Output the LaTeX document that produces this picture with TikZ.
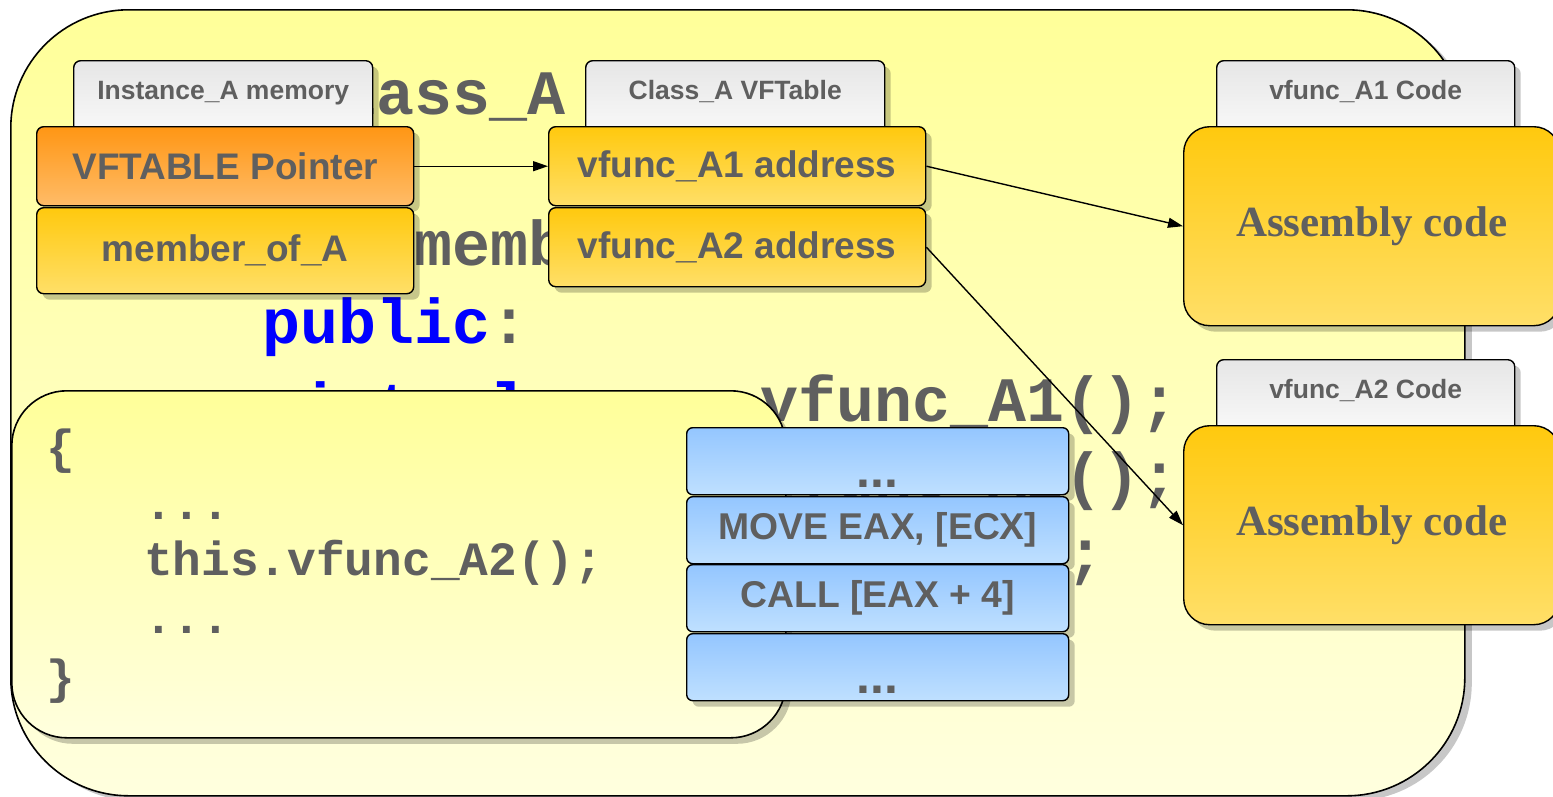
\documentclass[tikz,border=0pt]{standalone}
\usepackage{fontspec}
\setmainfont{Liberation Sans}
\newfontfamily\asmfont{Liberation Serif}
\newfontfamily\codefont{Liberation Mono}
\usetikzlibrary{shadows,arrows.meta}
\definecolor{txt}{HTML}{5F5F5F}
\definecolor{kw}{HTML}{0000FF}
\definecolor{yelT}{HTML}{FFFF99}
\definecolor{yelB}{HTML}{FFFFDE}
\definecolor{orT}{HTML}{FF9614}
\definecolor{orB}{HTML}{FFBC68}
\definecolor{gdT}{HTML}{FFC90E}
\definecolor{gdB}{HTML}{FFDF68}
\definecolor{tbT}{HTML}{E6E6E6}
\definecolor{tbB}{HTML}{FBFBFB}
\definecolor{blT}{HTML}{94C6FF}
\definecolor{blB}{HTML}{BFE0FF}
\tikzset{
  shd/.style={drop shadow={shadow xshift=6pt,shadow yshift=-6pt,fill=black,opacity=0.22}},
  outerbox/.style={draw=black,line width=1.6pt,rounded corners=118pt,top color=yelT,bottom color=yelB,
    drop shadow={shadow xshift=7pt,shadow yshift=-5pt,fill=black,opacity=0.22},inner sep=0pt,anchor=north west},
  bodybox/.style={draw=black,line width=1.6pt,rounded corners=55pt,top color=yelT,bottom color=yelB,shd,inner sep=0pt,anchor=north west},
  tabbox/.style={draw=black,line width=1.4pt,rounded corners=7pt,top color=tbT,bottom color=tbB,shd,inner sep=0pt,
    anchor=north west,minimum height=80pt,text=txt,font=\bfseries\fontsize{26.5}{28}\selectfont,
    text height=20pt,text depth=23pt},
  cellbox/.style={draw=black,line width=1.4pt,rounded corners=7pt,shd,inner sep=0pt,anchor=north west,
    text=txt,font=\bfseries\fontsize{37}{40}\selectfont},
  orange/.style={cellbox,top color=orT,bottom color=orB},
  gold/.style={cellbox,top color=gdT,bottom color=gdB},
  asmbox/.style={draw=black,line width=1.4pt,rounded corners=26pt,top color=gdT,bottom color=gdB,shd,inner sep=0pt,
    anchor=north west,text=txt,font=\asmfont\bfseries\fontsize{43}{48}\selectfont},
  bluebox/.style={draw=black,line width=1.4pt,rounded corners=6pt,top color=blT,bottom color=blB,shd,inner sep=0pt,
    anchor=north west,minimum width=382pt,minimum height=67pt,text=txt,font=\bfseries\fontsize{37.3}{40}\selectfont},
  dotsbox/.style={bluebox,font=\bfseries\fontsize{50}{50}\selectfont,text height=53pt,text depth=0pt},
  bigcode/.style={inner sep=0pt,anchor=base west,text=txt,font=\codefont\bfseries\fontsize{63.3}{70}\selectfont},
  smallcode/.style={inner sep=0pt,anchor=base west,text=txt,font=\codefont\bfseries\fontsize{47.8}{52}\selectfont},
  link/.style={draw=black,line width=1.4pt,-{Triangle[length=15pt,width=10pt]}}
}
\begin{document}
\begin{tikzpicture}[x=1pt,y=-1pt]
\useasboundingbox (0,0) rectangle (1553,796);
\clip (0,0) rectangle (1553,796);

% class background
\node[outerbox,minimum width=1454pt,minimum height=786pt] (cls) at (10,9) {};

% class source text (partly hidden)
\node[bigcode] (l1) at (72,114) {class Class\_A};
\node[bigcode] (l2) at (262,265) {int member\_of\_A;};
\node[bigcode,text=kw] (l3) at (262,343) {public};
\node[bigcode] (l3c) at (490,343) {:};
\node[bigcode,text=kw] (l4) at (262,427) {virtual};
\node[bigcode] (l4b) at (760,421) {vfunc\_A1();};
\node[bigcode] (l5) at (760,497) {vfunc\_A2();};
\node[bigcode] (l6) at (1066,574) {;};

% tabs
\node[tabbox,minimum width=299pt] (tabI) at (73,60) {Instance\_A memory};
\node[tabbox,minimum width=299pt] (tabV) at (585,60) {Class\_A VFTable};
\node[tabbox,minimum width=298pt] (tabC1) at (1216,60) {vfunc\_A1 Code};
\node[tabbox,minimum width=298pt] (tabC2) at (1216,359) {vfunc\_A2 Code};

% memory cells
\node[orange,minimum width=377pt,minimum height=79pt] (vptr) at (36,126) {VFTABLE Pointer};
\node[gold,minimum width=377pt,minimum height=86pt] (mem) at (36,207) {member\_of\_A};
\node[gold,minimum width=377pt,minimum height=79pt] (a1) at (548,126) {vfunc\_A1 address};
\node[gold,minimum width=377pt,minimum height=79pt] (a2) at (548,207) {vfunc\_A2 address};

% assembly code blocks
\node[asmbox,minimum width=376pt,minimum height=199pt] (code1) at (1183,126) {Assembly code};
\node[asmbox,minimum width=376pt,minimum height=199pt] (code2) at (1183,425) {Assembly code};

% method body
\node[bodybox,minimum width=774pt,minimum height=347pt] (body) at (11,390) {};
\node[smallcode] (b1) at (46,463) {\{};
\node[smallcode] (b2) at (144,519) {...};
\node[smallcode] (b3) at (144,575) {this.vfunc\_A2();};
\node[smallcode] (b4) at (144,633) {...};
\node[smallcode] (b5) at (46,693) {\}};

% instruction stack
\node[dotsbox] (i1) at (686,427) {...};
\node[bluebox] (i2) at (686,496) {MOVE EAX, [ECX]};
\node[bluebox] (i3) at (686,564) {CALL [EAX + 4]};
\node[dotsbox] (i4) at (686,633) {...};

% pointers
\draw[link] (vptr.east) -- (a1.west);
\draw[link] (a1.east) -- (code1.west);
\draw[link] (a2.east) -- (code2.west);
\end{tikzpicture}
\end{document}
